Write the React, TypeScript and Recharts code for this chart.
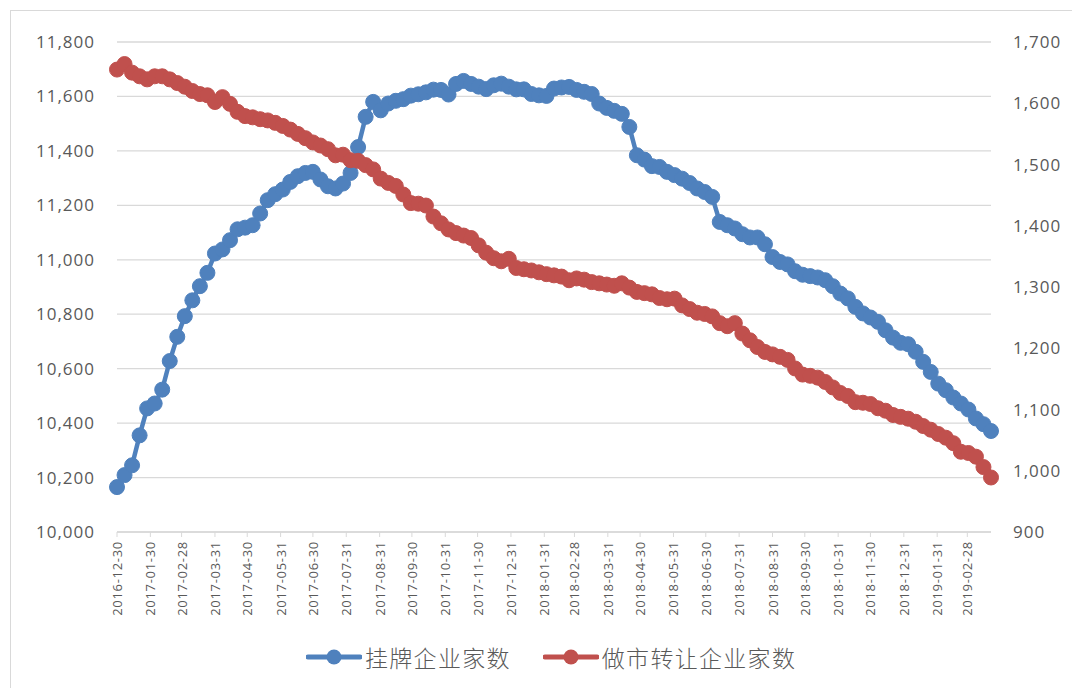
import React from "react";
import {
  LineChart,
  Line,
  XAxis,
  YAxis,
  CartesianGrid,
  Legend,
} from "recharts";

// weekly observations starting from the first Friday shown on the axis
const startDate = "2016-12-30";

const listedCompanies = [
  10165, 10209, 10245, 10355, 10454, 10472, 10523, 10628, 10717, 10793,
  10851, 10903, 10952, 11023, 11038, 11072, 11112, 11118, 11127, 11170,
  11219, 11241, 11258, 11286, 11307, 11319, 11323, 11295, 11270, 11262,
  11280, 11319, 11414, 11525, 11580, 11549, 11574, 11584, 11590, 11603,
  11608, 11615, 11625, 11624, 11607, 11646, 11657, 11646, 11636, 11627,
  11641, 11647, 11636, 11626, 11626, 11609, 11604, 11602, 11629, 11633,
  11635, 11624, 11617, 11609, 11574, 11558, 11547, 11536, 11488, 11384,
  11368, 11344, 11341, 11323, 11311, 11298, 11282, 11262, 11249, 11231,
  11139, 11127, 11115, 11094, 11082, 11082, 11057, 11010, 10992, 10983,
  10958, 10945, 10940, 10935, 10925, 10903, 10876, 10858, 10827, 10803,
  10788, 10772, 10741, 10714, 10695, 10690, 10662, 10625, 10588, 10545,
  10521, 10494, 10472, 10450, 10417, 10396, 10371,
];

const marketMakingCompanies = [
  1655, 1664, 1650, 1644, 1639, 1644, 1644, 1639, 1633, 1627,
  1620, 1615, 1613, 1602, 1610, 1599, 1586, 1579, 1577, 1574,
  1572, 1568, 1563, 1557, 1550, 1543, 1536, 1531, 1525, 1515,
  1516, 1507, 1506, 1499, 1492, 1477, 1470, 1465, 1451, 1437,
  1436, 1433, 1415, 1404, 1394, 1388, 1384, 1380, 1368, 1356,
  1347, 1342, 1346, 1331, 1329, 1327, 1324, 1321, 1319, 1317,
  1311, 1314, 1312, 1308, 1306, 1304, 1302, 1306, 1299, 1292,
  1290, 1288, 1282, 1280, 1281, 1270, 1264, 1258, 1256, 1252,
  1241, 1236, 1241, 1224, 1213, 1202, 1194, 1190, 1186, 1181,
  1167, 1157, 1155, 1152, 1145, 1136, 1127, 1122, 1112, 1111,
  1109, 1102, 1098, 1091, 1088, 1085, 1080, 1073, 1067, 1060,
  1054, 1045, 1031, 1029, 1023, 1006, 989,
];

const xTickLabels = [
  "2016-12-30", "2017-01-30", "2017-02-28", "2017-03-31", "2017-04-30",
  "2017-05-31", "2017-06-30", "2017-07-31", "2017-08-31", "2017-09-30",
  "2017-10-31", "2017-11-30", "2017-12-31", "2018-01-31", "2018-02-28",
  "2018-03-31", "2018-04-30", "2018-05-31", "2018-06-30", "2018-07-31",
  "2018-08-31", "2018-09-30", "2018-10-31", "2018-11-30", "2018-12-31",
  "2019-01-31", "2019-02-28",
];

const leftTicks = [10000, 10200, 10400, 10600, 10800, 11000, 11200, 11400, 11600, 11800];
const rightTicks = [900, 1000, 1100, 1200, 1300, 1400, 1500, 1600, 1700];

const BLUE = "#4f81bd";
const RED = "#c0504d";
const TEXT = "#595959";
const GRID = "#d9d9d9";
const NUM_FONT = "'Open Sans', 'Liberation Sans', sans-serif";
const CJK_FONT = "'Noto Sans CJK SC', sans-serif";

const dayOf = (s: string) => {
  const [y, m, d] = s.split("-").map(Number);
  const [y0, m0, d0] = startDate.split("-").map(Number);
  return Math.round((Date.UTC(y, m - 1, d) - Date.UTC(y0, m0 - 1, d0)) / 86400000);
};

const xTicks = xTickLabels.map(dayOf);
const lastDay = (listedCompanies.length - 1) * 7;

const data = listedCompanies.map((v, i) => ({
  day: i * 7,
  listed: v,
  mm: marketMakingCompanies[i],
}));

const fmt = (v: number) => v.toLocaleString("en-US");

const XTick = ({ x, y, payload }: any) => {
  const idx = xTicks.indexOf(payload.value);
  return (
    <text
      x={x}
      y={y}
      transform={`rotate(-90 ${x} ${y})`}
      textAnchor="end"
      dominantBaseline="central"
      fill={TEXT}
      fontSize={13}
      letterSpacing={0.7}
      fontFamily={NUM_FONT}
    >
      {idx >= 0 ? xTickLabels[idx] : ""}
    </text>
  );
};

const LegendItem = ({ color, label }: { color: string; label: string }) => (
  <div style={{ display: "flex", alignItems: "center" }}>
    <svg width={56} height={20}>
      <line x1={2} y1={10} x2={54} y2={10} stroke={color} strokeWidth={5} strokeLinecap="round" />
      <circle cx={28} cy={10} r={7.5} fill={color} />
    </svg>
    <span
      style={{
        fontFamily: CJK_FONT,
        fontSize: 23,
        fontWeight: 300,
        color: TEXT,
        marginLeft: 3,
        letterSpacing: 1.3,
      }}
    >
      {label}
    </span>
  </div>
);

const ChartLegend = () => (
  <div
    style={{
      height: 40,
      width: 1072,
      display: "flex",
      alignItems: "center",
      paddingLeft: 306,
      boxSizing: "border-box",
      gap: 32,
    }}
  >
    <LegendItem color={BLUE} label="挂牌企业家数" />
    <LegendItem color={RED} label="做市转让企业家数" />
  </div>
);

export default function App() {
  return (
    <div
      style={{
        position: "absolute",
        left: 0,
        top: 0,
        width: 1072,
        height: 688,
        background: "#fff",
        overflow: "hidden",
      }}
    >
      <div
        style={{
          position: "absolute",
          left: 10,
          top: 10,
          width: 1100,
          height: 700,
          border: `1px solid ${GRID}`,
        }}
      />
      <LineChart
        width={1072}
        height={688}
        data={data}
        margin={{ top: 42, right: 0, bottom: 11, left: 0 }}
      >
        <CartesianGrid
          yAxisId="left"
          vertical={false}
          stroke={GRID}
          strokeWidth={1.3}
        />
        <XAxis
          dataKey="day"
          type="number"
          domain={[0, lastDay]}
          ticks={xTicks}
          interval={0}
          height={105}
          axisLine={{ stroke: GRID, strokeWidth: 1.3 }}
          tickLine={{ stroke: GRID }}
          tickSize={5}
          tickMargin={4}
          tick={<XTick />}
        />
        <YAxis
          yAxisId="left"
          orientation="left"
          width={117}
          domain={[10000, 11800]}
          ticks={leftTicks}
          interval={0}
          axisLine={false}
          tickLine={false}
          tickMargin={16}
          tickFormatter={fmt}
          tick={{ fill: TEXT, fontSize: 17, fontFamily: NUM_FONT, letterSpacing: 1 }}
        />
        <YAxis
          yAxisId="right"
          orientation="right"
          width={81}
          domain={[900, 1700]}
          ticks={rightTicks}
          interval={0}
          axisLine={false}
          tickLine={false}
          tickMargin={16}
          tickFormatter={fmt}
          tick={{ fill: TEXT, fontSize: 17, fontFamily: NUM_FONT, letterSpacing: 1, textAnchor: "start" }}
        />
        <Legend verticalAlign="bottom" align="left" content={() => <ChartLegend />} />
        <Line
          yAxisId="left"
          type="linear"
          dataKey="listed"
          name="挂牌企业家数"
          stroke={BLUE}
          strokeWidth={4.5}
          dot={{ r: 7.5, fill: BLUE, stroke: BLUE, strokeWidth: 1 }}
          isAnimationActive={false}
        />
        <Line
          yAxisId="right"
          type="linear"
          dataKey="mm"
          name="做市转让企业家数"
          stroke={RED}
          strokeWidth={4.5}
          dot={{ r: 7.5, fill: RED, stroke: RED, strokeWidth: 1 }}
          isAnimationActive={false}
        />
      </LineChart>
    </div>
  );
}
